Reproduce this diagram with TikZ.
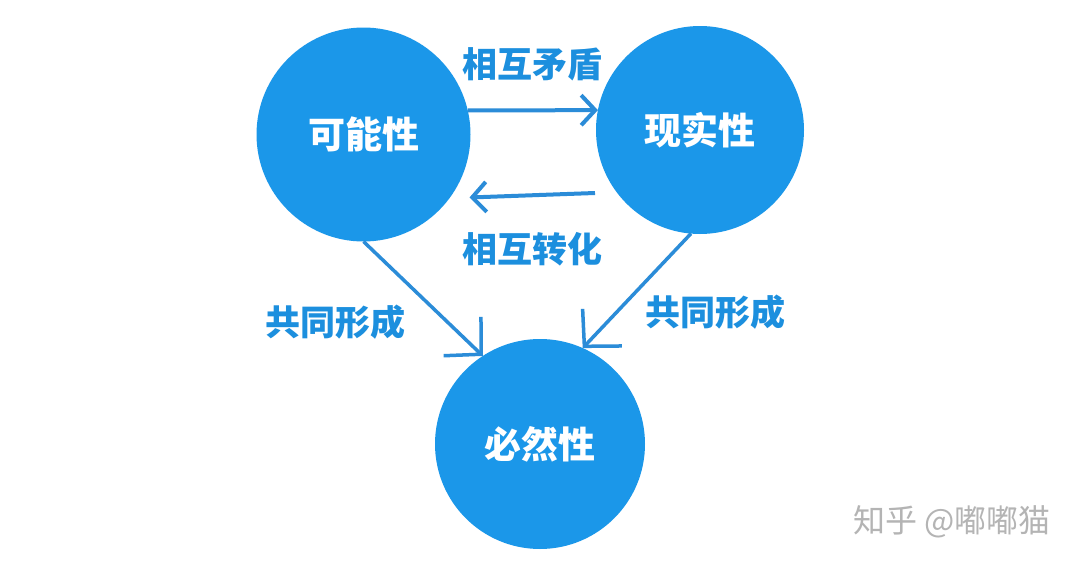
\documentclass[tikz,border=0pt]{standalone}
\usepackage{fontspec}
\setmainfont{Noto Sans CJK SC}
\usetikzlibrary{arrows.meta,calc}
\definecolor{circblue}{HTML}{1B97E9}
\definecolor{lineblue}{HTML}{2B8CD8}
\definecolor{textblue}{HTML}{1C8FDE}
\definecolor{wmgray}{HTML}{B4B4B4}
\tikzset{
  bubble/.style={circle,fill=circblue,minimum size=#1,inner sep=0pt,outer sep=0pt,
    text=white,font=\fontsize{37}{37}\selectfont\bfseries},
  lbl/.style={text=textblue,font=\fontsize{35}{35}\selectfont\bfseries},
  harr/.style={draw=lineblue,line width=4pt,-{Straight Barb[length=14pt,width=30pt,line width=4pt]}},
  darr/.style={draw=lineblue,line width=3.5pt,-{Straight Barb[length=26pt,width=54pt,line width=3.5pt]}},
}
\begin{document}
\begin{tikzpicture}[x=1pt,y=-1pt]
\useasboundingbox[fill=white] (0,0) rectangle (1080,570);
\node[bubble=214pt] (a) at (363.5,134.5) {可能性};
\node[bubble=208pt] (b) at (700,130) {现实性};
\node[bubble=210pt] (c) at (540,444) {必然性};
\draw[harr] (a.13) -- (b.169);
\draw[harr] ($(b.center)+(-105,63)$) coordinate (bs) -- ($(a.center)+(106,63)$) coordinate (ae);
\draw[darr] (a.south) -- (c.123);
\draw[darr] (b.265) -- (c.66);
\node[lbl] (l1) at (532,64) {相互矛盾};
\node[lbl] (l2) at (532,249) {相互转化};
\node[lbl] (l3) at (335,322) {共同形成};
\node[lbl] (l4) at (715,312) {共同形成};
\node[text=wmgray,font=\fontsize{32}{32}\selectfont] (wm) at (952,522) {知乎 @嘟嘟猫};
\end{tikzpicture}
\end{document}
